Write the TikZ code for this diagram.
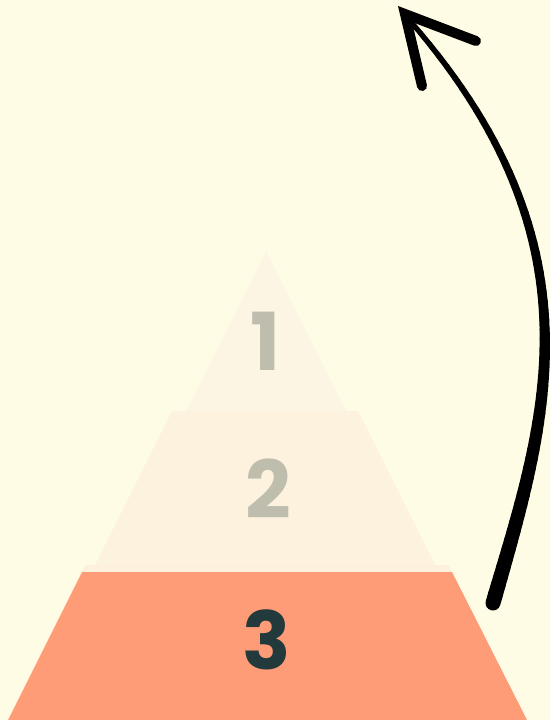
\documentclass[tikz,border=0pt]{standalone}
\usepackage{fontspec}
\newfontfamily\popfont{Poppins}
\definecolor{bgc}{HTML}{FFFCE6}
\definecolor{topc}{HTML}{FDF5E3}
\definecolor{midc}{HTML}{FDF2DE}
\definecolor{stripc}{HTML}{FEF1DC}
\definecolor{basec}{HTML}{FF9C78}
\definecolor{numgrey}{HTML}{BFBEAE}
\definecolor{numdark}{HTML}{223A3B}
\tikzset{
  numlabel/.style={font=\popfont\bfseries\fontsize{80}{80}\selectfont, inner sep=0pt, text=numgrey},
  headstroke/.style={line width=10pt, line cap=round, black},
}
\begin{document}
\begin{tikzpicture}[x=1pt,y=-1pt]
\fill[bgc] (0,0) rectangle (550,720);
\useasboundingbox (0,0) rectangle (550,720);
% layers
\fill[topc] (266,251) -- (346,411) -- (186,411) -- cycle;
\fill[midc] (172,411) -- (358,411) -- (435,565) -- (95,565) -- cycle;
\fill[stripc] (85.5,565) -- (448.5,565) -- (452,572) -- (82,572) -- cycle;
\fill[basec] (82,572) -- (452,572) -- (527,720) -- (8,720) -- cycle;
% labels
\node[numlabel] (one) at (266,341.5) {1};
\node[numlabel] (two) at (268,489) {2};
\node[numlabel, text=numdark] (three) at (266.5,640) {3};
% curved arrow (tapered)
\coordinate (s) at (493,603);
\coordinate (c1) at (545,423);
\coordinate (c2) at (606,247);
\coordinate (e) at (411,22);
\foreach \i in {0,...,60}{
  \path (s) .. controls (c1) and (c2) .. (e) coordinate[pos=\i/60] (q\i);
}
\foreach \i [evaluate=\i as \j using int(\i+1), evaluate=\i as \w using 15-10*\i/60] in {0,...,59}{
  \draw[line width=\w pt, line cap=round, black] (q\i) -- (q\j);
}
\coordinate (tip) at (405,14);
\coordinate (hr) at (476,41);
\coordinate (hl) at (422,86);
\draw[headstroke] (hr) -- (tip) -- (hl);
\end{tikzpicture}
\end{document}
